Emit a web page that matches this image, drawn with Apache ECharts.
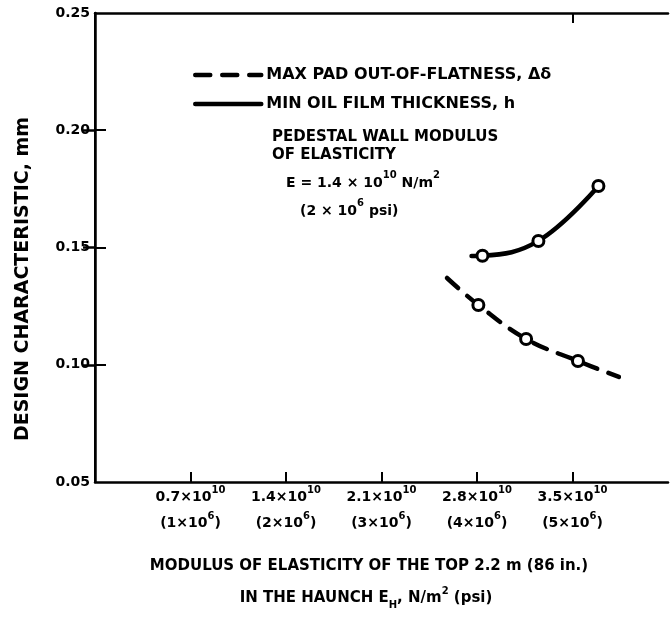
<!DOCTYPE html>
<html>
<head>
<meta charset="utf-8">
<script src="https://cdn.jsdelivr.net/npm/echarts@6/dist/echarts.min.js"></script>
<style>html,body{margin:0;padding:0;background:#fff}#c{width:670px;height:619px}</style>
</head>
<body>
<div id="c"></div>
<script>
// x in units of 10^10 N/m^2
var xTicks = [0.7, 1.4, 2.1, 2.8, 3.5];
var xTickLabels = ['0.7', '1.4', '2.1', '2.8', '3.5'];
var psiLabels = ['1', '2', '3', '4', '5'];
var yTicks = [0.10, 0.15, 0.20];
var padFlatLine = [[2.58, 0.137], [2.81, 0.1255], [3.16, 0.111], [3.54, 0.1016], [3.84, 0.0948]];
var padFlatPoints = [[2.81, 0.1255], [3.16, 0.111], [3.54, 0.1016]];
var oilFilmLine = [[2.76, 0.1464], [2.84, 0.1465], [3.25, 0.1528], [3.69, 0.1762]];
var oilFilmPoints = [[2.84, 0.1465], [3.25, 0.1528], [3.69, 0.1762]];

var FF = '"DejaVu Sans", sans-serif';
var chart = echarts.init(document.getElementById('c'));

function idxOf(v) {
  for (var i = 0; i < xTicks.length; i++) if (Math.abs(v - xTicks[i]) < 1e-6) return i;
  return -1;
}
function line1(v) { var i = idxOf(v); return i < 0 ? '' : '{n|' + xTickLabels[i] + '×10}{s|10}'; }
function line2(v) { var i = idxOf(v); return i < 0 ? '' : '{n|(' + psiLabels[i] + '×10}{s|6}{n|)}'; }

var supRich = {
  n: {fontSize: 14, fontWeight: 'bold', fontFamily: FF, lineHeight: 19, verticalAlign: 'bottom', color: '#000'},
  s: {fontSize: 10, fontWeight: 'bold', fontFamily: FF, lineHeight: 12, verticalAlign: 'top', color: '#000'}
};
function gRich(sz) {
  return {
    n: {font: 'bold ' + sz + 'px ' + FF, lineHeight: 20, verticalAlign: 'bottom', fill: '#000'},
    s: {font: 'bold 10px ' + FF, lineHeight: 12, verticalAlign: 'top', fill: '#000'}
  };
}

chart.setOption({
  animation: false,
  backgroundColor: '#fff',
  grid: {left: 95, right: 2, top: 13, bottom: 137},
  legend: {
    orient: 'vertical', left: 188, top: 62, itemWidth: 66, itemHeight: 16, itemGap: 13,
    data: ['MAX PAD OUT-OF-FLATNESS, Δδ', 'MIN OIL FILM THICKNESS, h'],
    itemStyle: {opacity: 0},
    lineStyle: {width: 4.5},
    textStyle: {color: '#000', fontWeight: 'bold', fontSize: 16, fontFamily: FF}
  },
  xAxis: [{
    type: 'value', min: 0, max: 4.2, interval: 0.7,
    splitLine: {show: false},
    axisLine: {lineStyle: {color: '#000', width: 2.5}},
    axisTick: {inside: true, length: 10, customValues: xTicks, lineStyle: {color: '#000', width: 2}},
    axisLabel: {customValues: xTicks, margin: 3, formatter: line1, rich: supRich}
  }, {
    type: 'value', position: 'top', min: 0, max: 4.2, interval: 0.7,
    splitLine: {show: false},
    axisLine: {lineStyle: {color: '#000', width: 2.5}},
    axisTick: {inside: true, length: 10, customValues: [3.5], lineStyle: {color: '#000', width: 2}},
    axisLabel: {show: false}
  }, {
    type: 'value', position: 'bottom', min: 0, max: 4.2, interval: 0.7,
    splitLine: {show: false}, axisLine: {show: false}, axisTick: {show: false},
    axisLabel: {customValues: xTicks, margin: 29, formatter: line2, rich: supRich}
  }],
  yAxis: [{
    type: 'value', min: 0.05, max: 0.25, interval: 0.05,
    splitLine: {show: false},
    axisLine: {show: true, lineStyle: {color: '#000', width: 2.5}},
    axisTick: {show: true, inside: true, length: 11, customValues: yTicks, lineStyle: {color: '#000', width: 2}},
    axisLabel: {margin: 5, color: '#000', fontWeight: 'bold', fontSize: 14, fontFamily: FF,
      formatter: function (v) { return v.toFixed(2); }}
  }, {
    type: 'value', position: 'right', min: 0.05, max: 0.25, interval: 0.05,
    splitLine: {show: false},
    axisLine: {show: true, lineStyle: {color: '#000', width: 2}},
    axisTick: {show: true, inside: true, length: 12, customValues: yTicks, lineStyle: {color: '#000', width: 2.5}},
    axisLabel: {show: false}
  }],
  graphic: [
    {type: 'text', x: 23, y: 279, rotation: Math.PI / 2, style: {
      text: 'DESIGN CHARACTERISTIC, mm', fill: '#000', font: 'bold 19px ' + FF, align: 'center', verticalAlign: 'middle'}},
    {type: 'text', x: 272, y: 137, style: {text: 'PEDESTAL WALL MODULUS', fill: '#000', font: 'bold 15px ' + FF, verticalAlign: 'middle'}},
    {type: 'text', x: 272, y: 155, style: {text: 'OF ELASTICITY', fill: '#000', font: 'bold 15px ' + FF, verticalAlign: 'middle'}},
    {type: 'text', x: 286, y: 170, style: {text: '{n|E = 1.4 × 10}{s|10}{n| N/m}{s|2}', rich: gRich(14)}},
    {type: 'text', x: 300, y: 198, style: {text: '{n|(2 × 10}{s|6}{n| psi)}', rich: gRich(14)}},
    {type: 'text', x: 369, y: 566, style: {
      text: 'MODULUS OF ELASTICITY OF THE TOP 2.2 m (86 in.)', fill: '#000', font: 'bold 15px ' + FF, align: 'center', verticalAlign: 'middle'}},
    {type: 'text', x: 366, y: 598, style: {
      text: '{n|IN THE HAUNCH E}{b|H}{n|, N/m}{s|2}{n| (psi)}', align: 'center', verticalAlign: 'middle',
      rich: {n: {font: 'bold 15px ' + FF, lineHeight: 24, verticalAlign: 'middle', fill: '#000'},
             s: {font: 'bold 10px ' + FF, lineHeight: 12, verticalAlign: 'top', fill: '#000'},
             b: {font: 'bold 10px ' + FF, lineHeight: 12, verticalAlign: 'bottom', fill: '#000'}}}}
  ],
  series: [{
    name: 'MAX PAD OUT-OF-FLATNESS, Δδ', type: 'line', data: padFlatLine, smooth: 0.4,
    symbol: 'none', lineStyle: {color: '#000', width: 4.5, type: [15, 12], cap: 'round'},
    itemStyle: {color: '#000'}
  }, {
    name: 'MIN OIL FILM THICKNESS, h', type: 'line', data: oilFilmLine, smooth: 0.4,
    symbol: 'none', lineStyle: {color: '#000', width: 4.5, cap: 'round'},
    itemStyle: {color: '#000'}
  }, {
    type: 'scatter', data: padFlatPoints.concat(oilFilmPoints), symbol: 'circle', symbolSize: 11,
    itemStyle: {color: '#fff', borderColor: '#000', borderWidth: 3, opacity: 1}, z: 5
  }]
});
</script>
</body>
</html>
